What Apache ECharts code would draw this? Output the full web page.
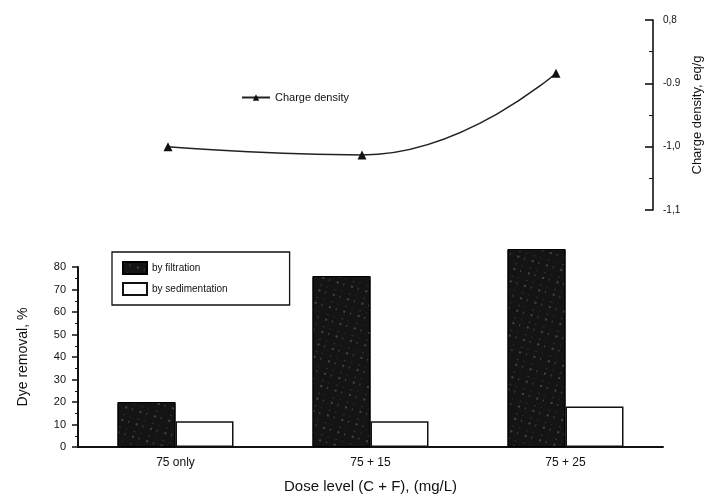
<!DOCTYPE html>
<html><head><meta charset="utf-8">
<script src="https://cdn.jsdelivr.net/npm/echarts@6/dist/echarts.min.js"></script>
<style>html,body{margin:0;padding:0;background:#fff}#c{width:714px;height:497px}</style>
</head><body><div id="c"></div>
<script>
const categories = ['75 only', '75 + 15', '75 + 25'];
const filtration = [20, 76, 88];
const sedimentation = [11.5, 11.5, 18];
const chargeDensity = [-1.0, -1.013, -0.884];
const chargeTickValues = [-1.1, -1.0, -0.9, -0.8];
const chargeTickLabels = ['-1,1', '-1,0', '-0.9', '0,8'];

const F = 'Liberation Sans, Arial, sans-serif';
const chart = echarts.init(document.getElementById('c'), null, {renderer: 'canvas'});
chart.setOption({
  backgroundColor: '#fff',
  animation: false,
  textStyle: {fontFamily: F, color: '#111'},
  legend: [
    {data: [{name: 'Charge density'}], left: 236, top: 87, itemWidth: 28, itemHeight: 8,
     textStyle: {fontSize: 11, color: '#111'}},
    {data: [{name: 'by filtration', icon: 'rect'}, {name: 'by sedimentation', icon: 'rect'}],
     orient: 'vertical', left: 112, top: 252,
     itemWidth: 24, itemHeight: 12, itemGap: 7, padding: [9, 62, 9, 10],
     borderColor: '#111', borderWidth: 1.3, textStyle: {fontSize: 10, color: '#111'}}
  ],
  grid: [
    {left: 71, right: 61, top: 20, bottom: 287},
    {left: 78, right: 51, top: 267, bottom: 50}
  ],
  xAxis: [
    {gridIndex: 0, type: 'category', data: categories, show: false},
    {gridIndex: 1, type: 'category', data: categories,
     axisLine: {lineStyle: {color: '#111', width: 2}},
     axisTick: {alignWithLabel: true, length: 8, lineStyle: {color: '#111', width: 1.5}},
     axisLabel: {fontSize: 12, color: '#111', margin: 10},
     name: 'Dose level (C + F), (mg/L)', nameLocation: 'middle', nameGap: 32,
     nameTextStyle: {fontSize: 15, color: '#111'}}
  ],
  yAxis: [
    {gridIndex: 0, type: 'value', position: 'right', min: -1.1, max: -0.8, interval: 0.1,
     axisLine: {show: true, lineStyle: {color: '#111', width: 1.6}},
     axisTick: {show: true, inside: true, length: 8, lineStyle: {color: '#111', width: 1.6}},
     minorTick: {show: true, splitNumber: 2, length: 4, lineStyle: {color: '#111'}},
     splitLine: {show: false},
     axisLabel: {fontSize: 10, color: '#111', margin: 10,
       formatter: v => { const i = chargeTickValues.findIndex(t => Math.abs(t - v) < 1e-6); return i >= 0 ? chargeTickLabels[i] : ''; }},
     name: 'Charge density, eq/g', nameLocation: 'middle', nameGap: 36, nameRotate: 90,
     nameTextStyle: {fontSize: 13, color: '#111'}},
    {gridIndex: 1, type: 'value', min: 0, max: 80, interval: 10,
     axisLine: {show: true, lineStyle: {color: '#111', width: 2}},
     axisTick: {show: true, length: 6, lineStyle: {color: '#111', width: 1.5}},
     minorTick: {show: true, splitNumber: 2, length: 3, lineStyle: {color: '#111'}},
     splitLine: {show: false},
     axisLabel: {fontSize: 11, color: '#111', margin: 12},
     name: 'Dye removal, %', nameLocation: 'middle', nameGap: 48, nameRotate: 90,
     nameTextStyle: {fontSize: 14, color: '#111'}}
  ],
  series: [
    {name: 'Charge density', type: 'line', xAxisIndex: 0, yAxisIndex: 0, data: chargeDensity,
     smooth: 0.5, symbol: 'triangle', symbolSize: 9,
     lineStyle: {color: '#222', width: 1.5}, itemStyle: {color: '#111'}},
    {name: 'by filtration', type: 'bar', xAxisIndex: 1, yAxisIndex: 1, data: filtration,
     barWidth: 58, barGap: '0%', clip: false,
     itemStyle: {color: '#141414', borderColor: '#000', borderWidth: 1,
       decal: {symbol: 'rect', symbolSize: 0.7, color: 'rgba(255,255,255,0.4)',
               dashArrayX: [[2, 5, 1, 7]], dashArrayY: [2, 6, 1, 4], rotation: 0.3}}},
    {name: 'by sedimentation', type: 'bar', xAxisIndex: 1, yAxisIndex: 1, data: sedimentation,
     barWidth: 58, clip: false,
     itemStyle: {color: '#fff', borderColor: '#111', borderWidth: 1.5}}
  ]
});
</script></body></html>
